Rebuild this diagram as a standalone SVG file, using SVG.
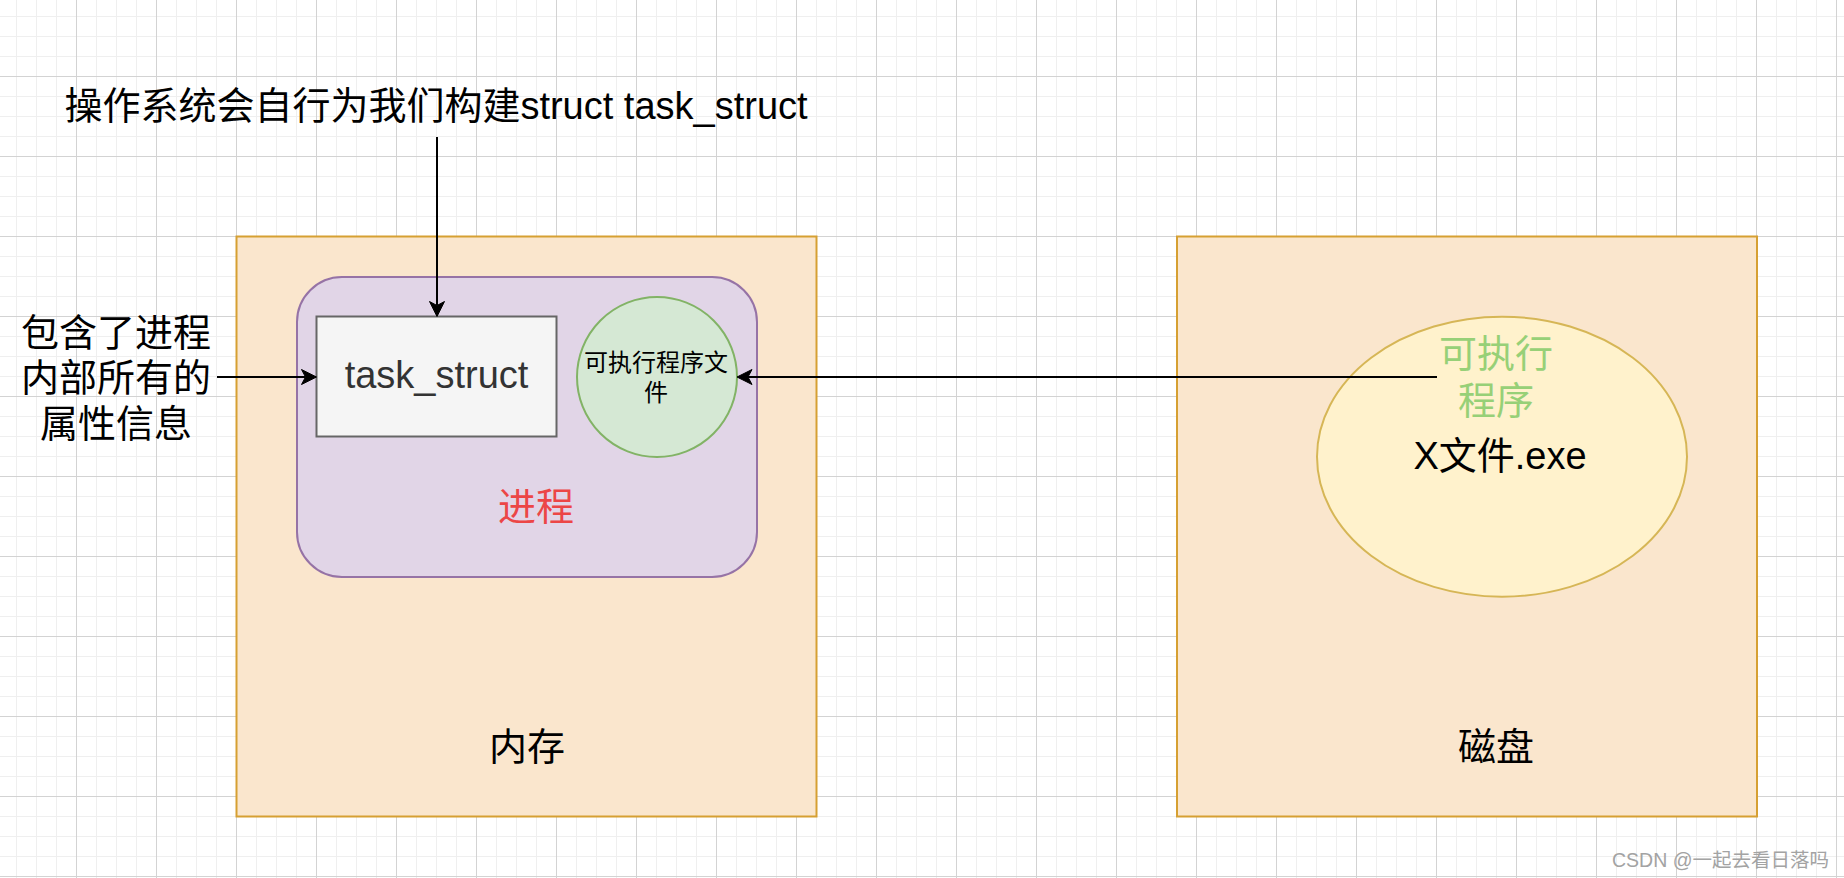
<svg xmlns="http://www.w3.org/2000/svg" width="1844" height="878" viewBox="0 0 1844 878">
<style>
.t{font-family:"Liberation Sans","Noto Sans CJK SC",sans-serif;text-anchor:middle;fill:#000}
.box{fill:#fae6cd;stroke:#d6a032;stroke-width:2}
.edge{fill:none;stroke:#000;stroke-width:2}
</style>
<defs>
<pattern id="grid" x="-4" y="-4" width="80" height="80" patternUnits="userSpaceOnUse">
<rect width="80" height="80" fill="#fff"/>
<path d="M20.5,0V80M40.5,0V80M60.5,0V80M0,20.5H80M0,40.5H80M0,60.5H80" stroke="#efefef" stroke-width="1" fill="none"/>
<path d="M0.5,0V80M0,0.5H80" stroke="#d3d3d3" stroke-width="1" fill="none"/>
</pattern>
<marker id="arr" markerUnits="userSpaceOnUse" viewBox="-5 -8 17 16" refX="0" refY="0" markerWidth="17" markerHeight="16" orient="auto" overflow="visible">
<path d="M11,0L-4,-7.5L0,0L-4,7.5Z" fill="#000" stroke="#000" stroke-width="1"/>
</marker>
</defs>
<rect width="1844" height="878" fill="url(#grid)"/>

<g id="memory">
<rect class="box" x="236.5" y="236.5" width="580" height="580"/>
<text class="t" x="527" y="760" font-size="38">内存</text>
</g>

<g id="disk">
<rect class="box" x="1177" y="236.5" width="580" height="580"/>
<text class="t" x="1496" y="760" font-size="38">磁盘</text>
</g>

<g id="process">
<rect x="297" y="277" width="460" height="300" rx="45" ry="45" fill="#e1d5e7" stroke="#9673a6" stroke-width="2"/>
<text class="t" x="536" y="519.5" font-size="38" style="fill:#ec4646">进程</text>
</g>

<g id="task_struct">
<rect x="316.5" y="316.5" width="240" height="120" fill="#f5f5f5" stroke="#666666" stroke-width="2"/>
<text class="t" x="436.5" y="388" font-size="38" style="fill:#333333">task_struct</text>
</g>

<g id="exec_file">
<circle cx="657" cy="377" r="80" fill="#d5e8d4" stroke="#82b366" stroke-width="2"/>
<text class="t" x="656" y="371" font-size="24">可执行程序文</text>
<text class="t" x="656" y="400.5" font-size="24">件</text>
</g>

<g id="exe">
<ellipse cx="1502" cy="456.7" rx="185" ry="140" fill="#fff2cc" stroke="#d6b656" stroke-width="2"/>
<text class="t" x="1496" y="367" font-size="38" style="fill:#97d077">可执行</text>
<text class="t" x="1496" y="414" font-size="38" style="fill:#97d077">程序</text>
<text class="t" x="1500" y="468.5" font-size="38">X文件.exe</text>
</g>

<g id="title">
<text class="t" x="436" y="119" font-size="38">操作系统会自行为我们构建struct task_struct</text>
</g>

<g id="attr_note">
<text class="t" x="116" y="345.5" font-size="38">包含了进程</text>
<text class="t" x="116" y="391.3" font-size="38">内部所有的</text>
<text class="t" x="116" y="437" font-size="38">属性信息</text>
</g>

<g id="connectors">
<path class="edge" d="M437,137V305.5" marker-end="url(#arr)"/>
<path class="edge" d="M217,377H305.5" marker-end="url(#arr)"/>
<path class="edge" d="M1437,377H748" marker-end="url(#arr)"/>
</g>

<text x="1829" y="867" font-size="19.5" font-family="Liberation Sans,Noto Sans CJK SC,sans-serif" text-anchor="end" fill="#a3a3a3">CSDN @一起去看日落吗</text>
</svg>
